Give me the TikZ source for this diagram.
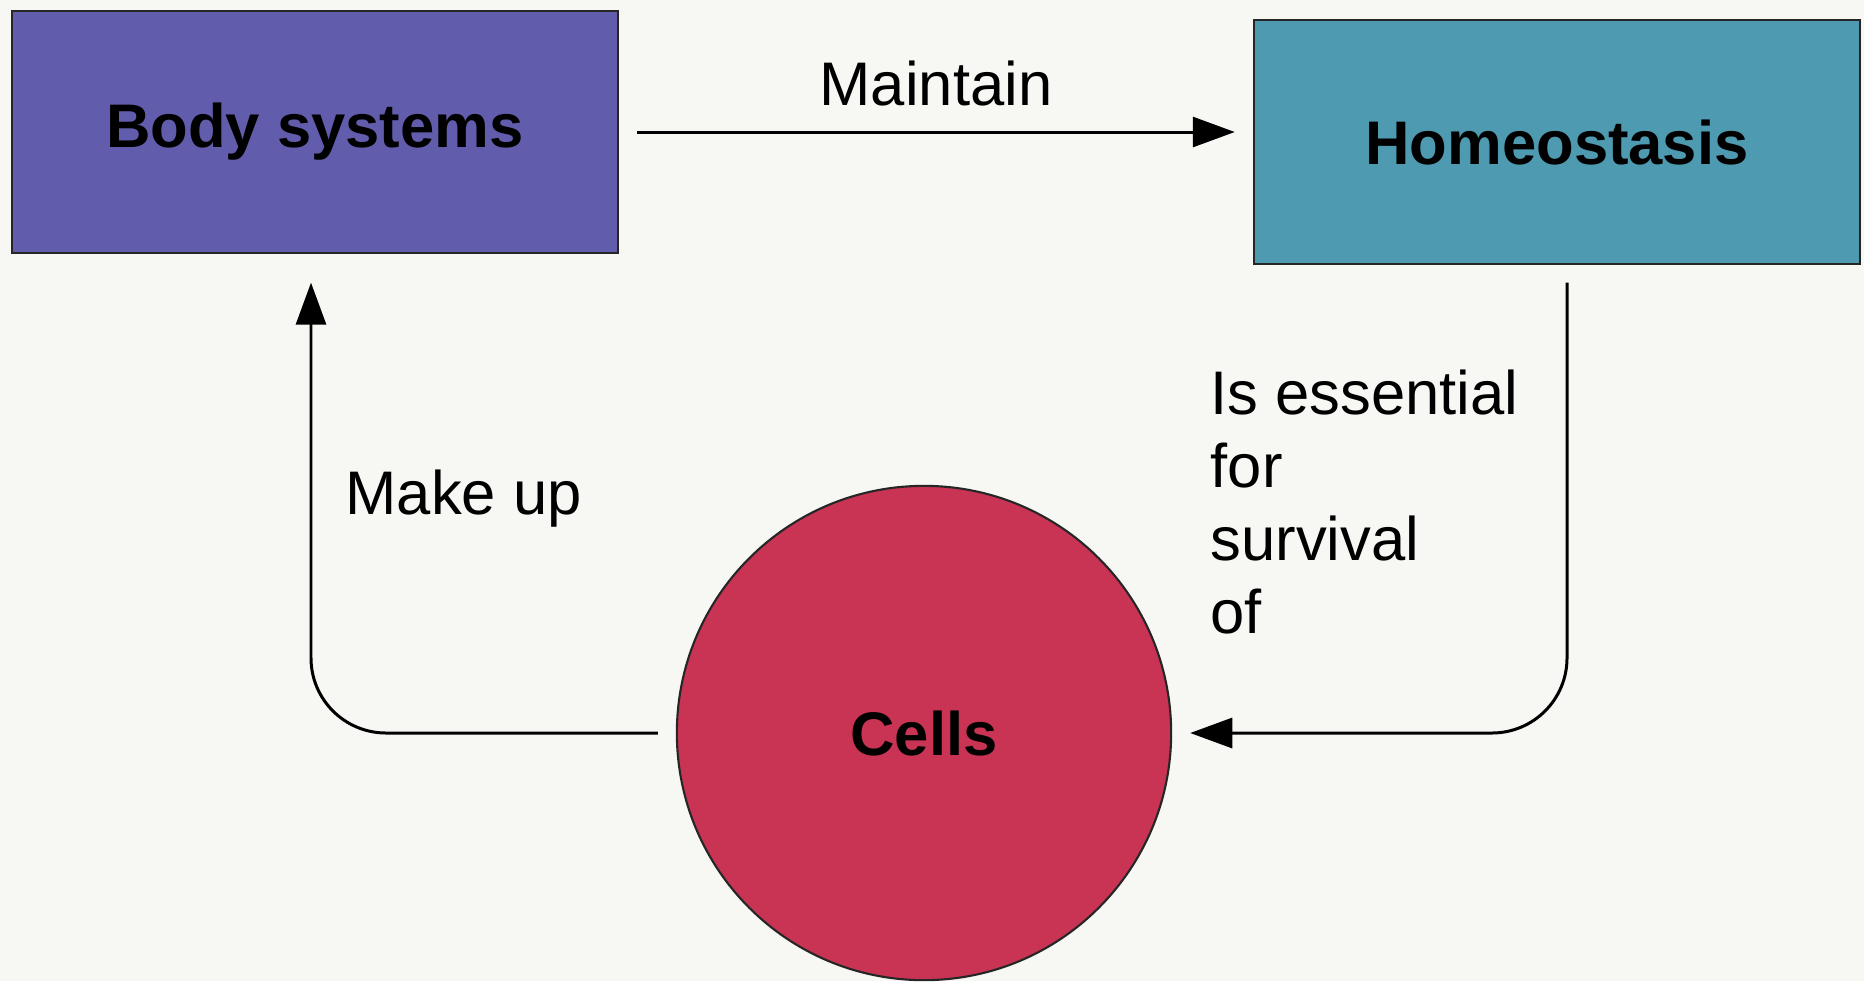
\documentclass[tikz,border=0pt]{standalone}
\usepackage{fontspec}
\setmainfont{Liberation Sans}
\usetikzlibrary{arrows.meta,positioning}
\definecolor{bodyblue}{RGB}{98,92,172}
\definecolor{homeoteal}{RGB}{78,154,176}
\definecolor{cellred}{RGB}{202,52,84}
\definecolor{paper}{RGB}{247,247,243}

\begin{document}
\begin{tikzpicture}
 [x=0.01cm, y=-0.01cm,
  box node/.style={rectangle, draw=black!85, line width=0.6pt, minimum width=6.06cm, minimum height=2.41cm, font=\fontsize{17.5}{21}\selectfont\bfseries},
  cell node/.style={circle, draw=black!85, line width=0.6pt, fill=cellred, minimum size=4.94cm, font=\fontsize{17.5}{21}\selectfont\bfseries},
  label node/.style={inner sep=0pt, font=\fontsize{17.5}{20.8}\selectfont},
  link/.style={-{Triangle[length=0.42cm,width=0.3cm]}, line width=0.85pt, rounded corners=0.75cm}]

\fill[paper] (0,0) rectangle (1864,981);
\useasboundingbox (0,0) rectangle (1864,981);

\node[box node, fill=bodyblue] (body) at (315,132) {Body systems};
\node[box node, fill=homeoteal, minimum height=2.43cm] (homeo) at (1557,142) {Homeostasis};
\node[cell node] (cells) at (924,733) {Cells};

\node[label node] (maintain) at (936,83) {Maintain};
\node[label node, anchor=base west] (makeup) at (345,514) {Make up};
\node[label node, anchor=north west, align=left] (essential) at (1210,369) {Is essential\\for\\survival\\of};

\draw[link] ([xshift=0.18cm]body.east) -- ([xshift=-0.18cm]homeo.west |- body.east);
\draw[link] ([xshift=0.1cm,yshift=-0.18cm]homeo.south) |- ([xshift=0.18cm]cells.east);
\draw[link] ([xshift=-0.18cm]cells.west) -| ([xshift=-0.04cm,yshift=-0.29cm]body.south);

\end{tikzpicture}
\end{document}
